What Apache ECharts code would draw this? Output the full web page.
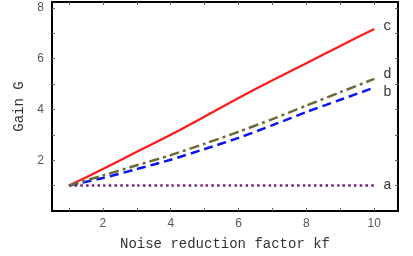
<!DOCTYPE html>
<html><head><meta charset="utf-8">
<script src="https://cdn.jsdelivr.net/npm/echarts@6/dist/echarts.min.js"></script>
<style>html,body{margin:0;padding:0;background:#fff}#c{width:413px;height:256px}</style>
</head><body><div id="c"></div>
<script>
const kf = [1, 2, 3, 4, 5, 6, 7, 8, 9, 10];
const seriesA = [1, 1, 1, 1, 1, 1, 1, 1, 1, 1];
const seriesB = [1, 1.3, 1.65, 2.02, 2.44, 2.88, 3.38, 3.9, 4.38, 4.86];
const seriesC = [1, 1.65, 2.33, 3.0, 3.72, 4.45, 5.15, 5.82, 6.5, 7.17];
const seriesD = [1, 1.4, 1.8, 2.2, 2.65, 3.12, 3.62, 4.15, 4.68, 5.2];
const curveNames = ['a', 'b', 'c', 'd'];
const xTickLabels = [2, 4, 6, 8, 10];
const yTickLabels = [2, 4, 6, 8];
const xMinorTicks = [1, 2, 3, 4, 5, 6, 7, 8, 9, 10];
const yMinorTicks = [1, 2, 3, 4, 5, 6, 7, 8];

const pair = arr => kf.map((k, i) => [k, arr[i]]);
const mono = 'Liberation Mono';
const tickFont = {fontFamily: 'Liberation Sans', fontSize: 12, color: '#555'};

function mk(name, data, color, type, width, offset) {
  return {
    name, type: 'line', data: pair(data), showSymbol: false, smooth: 0.25,
    lineStyle: {color, width, type},
    endLabel: {show: true, formatter: name, fontFamily: mono, fontSize: 14, color: '#333', distance: 9, offset: offset},
    xAxisIndex: 0, yAxisIndex: 0, z: 3
  };
}

const chart = echarts.init(document.getElementById('c'));
const axLine = {show: true, onZero: false, lineStyle: {color: '#000', width: 2}};
chart.setOption({
  animation: false,
  grid: {left: 52, right: 15, top: 2, bottom: 40},
  xAxis: [
    {type: 'value', min: 0.5, max: 10.7, position: 'bottom',
     name: 'Noise reduction factor kf', nameLocation: 'middle', nameGap: 26,
     nameTextStyle: {fontFamily: mono, fontSize: 14, color: '#333'},
     axisLine: axLine, splitLine: {show: false},
     axisTick: {show: true, inside: true, length: 3, customValues: xMinorTicks, lineStyle: {color: '#666'}},
     axisLabel: {customValues: xTickLabels, margin: 7, ...tickFont}},
    {type: 'value', min: 0.5, max: 10.7, position: 'top',
     axisLine: axLine, splitLine: {show: false},
     axisTick: {show: true, inside: true, length: 3, customValues: xMinorTicks, lineStyle: {color: '#666'}},
     axisLabel: {show: false}}
  ],
  yAxis: [
    {type: 'value', min: 0, max: 8.23, position: 'left',
     name: 'Gain G', nameLocation: 'middle', nameGap: 21, nameRotate: 90,
     nameTextStyle: {fontFamily: mono, fontSize: 14, color: '#333'},
     axisLine: axLine, splitLine: {show: false},
     axisTick: {show: true, inside: true, length: 3, customValues: yMinorTicks, lineStyle: {color: '#666'}},
     axisLabel: {customValues: yTickLabels, margin: 8, ...tickFont}},
    {type: 'value', min: 0, max: 8.23, position: 'right',
     axisLine: axLine, splitLine: {show: false},
     axisTick: {show: true, inside: true, length: 3, customValues: yMinorTicks, lineStyle: {color: '#666'}},
     axisLabel: {show: false}}
  ],
  series: [
    mk(curveNames[0], seriesA, '#7b1f82', [2.5, 3.2], 2.5, [0, 0]),
    mk(curveNames[1], seriesB, '#0a14f0', [9, 5], 2.5, [0, 5]),
    mk(curveNames[2], seriesC, '#ff1a1a', 'solid', 2.2, [0, -3]),
    mk(curveNames[3], seriesD, '#6b6b3a', [10, 4, 3, 4], 2.5, [0, -5])
  ]
});
</script></body></html>
